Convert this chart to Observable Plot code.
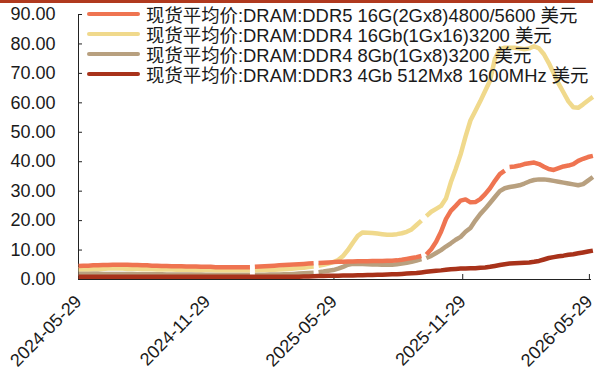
<!DOCTYPE html>
<html><head><meta charset="utf-8">
<script src="https://cdn.jsdelivr.net/npm/d3@7"></script>
<script src="https://cdn.jsdelivr.net/npm/@observablehq/plot@0.6"></script>
<style>
body{margin:0;background:#fff;}
#wrap{position:relative;width:596px;height:371px;overflow:hidden;font-family:"Liberation Sans","Noto Sans CJK SC",sans-serif;}
#topline{position:absolute;left:0;top:0;width:593px;height:3px;background:#B0391E;}
#legend{position:absolute;left:87px;top:4px;}
.item{display:flex;align-items:center;height:20px;font-size:18.4px;color:#1a1a1a;white-space:nowrap;}
.sw{width:53px;height:4.5px;margin-right:6px;border-radius:2.5px;flex:none;}
</style></head>
<body>
<div id="wrap"><div id="chart"></div><div id="topline"></div><div id="legend"></div></div>
<script>
// weekly sampling starting date (Wednesdays)
const startDate = "2024-05-29";
const weekCount = 106;
const xTickLabels = ["2024-05-29","2024-11-29","2025-05-29","2025-11-29","2026-05-29"];
const yTicks = [0,10,20,30,40,50,60,70,80,90];

const seriesNames = [
  "现货平均价:DRAM:DDR5 16G(2Gx8)4800/5600 美元",
  "现货平均价:DRAM:DDR4 16Gb(1Gx16)3200 美元",
  "现货平均价:DRAM:DDR4 8Gb(1Gx8)3200 美元",
  "现货平均价:DRAM:DDR3 4Gb 512Mx8 1600MHz 美元"
];
const seriesColors = ["#EF7451","#F0D98C","#B8A07F","#A8321A"];

const ddr5 = [
 4.6,4.7,4.7,4.8,4.8,4.9,4.9,5.0,5.0,5.0,
 5.0,4.9,4.9,4.8,4.8,4.7,4.7,4.6,4.6,4.5,
 4.5,4.5,4.4,4.4,4.4,4.3,4.3,4.3,4.2,4.2,
 4.2,4.2,4.2,4.2,4.2,4.2,4.3,4.4,4.5,4.6,
 4.7,4.8,4.9,5.0,5.1,5.2,5.3,5.4,5.5,5.6,
 5.7,5.8,5.9,6.0,6.0,6.1,6.1,6.2,6.2,6.2,
 6.3,6.3,6.3,6.4,6.4,6.5,6.7,7.0,7.3,7.6,
 8.0,8.5,10.3,12.8,16.2,20.5,23.3,25.0,26.8,27.2,
 26.2,26.3,27.3,29.0,31.0,33.5,35.8,37.0,38.2,38.4,
 38.7,39.2,39.5,39.7,39.2,38.3,37.5,37.2,37.8,38.4,
 38.7,39.2,40.3,41.0,41.6,42.0
];
const ddr4_16 = [
 3.5,3.5,3.5,3.6,3.6,3.6,3.7,3.7,3.7,3.7,
 3.6,3.6,3.6,3.5,3.5,3.5,3.4,3.4,3.4,3.4,
 3.3,3.3,3.3,3.3,3.2,3.2,3.2,3.2,3.1,3.1,
 3.1,3.1,3.1,3.1,3.1,3.1,3.1,3.2,3.2,3.3,
 3.3,3.4,3.5,3.6,3.7,3.9,4.0,4.2,4.4,4.7,
 5.0,5.4,5.9,6.6,8.0,10.0,12.5,14.8,16.0,15.9,
 15.8,15.6,15.4,15.2,15.2,15.4,15.7,16.2,17.0,18.5,
 20.0,21.5,23.0,24.0,25.0,27.5,33.0,37.5,42.5,48.5,
 54.0,57.2,60.5,64.0,67.5,75.0,78.2,78.7,78.7,78.7,
 78.5,78.2,78.5,79.2,78.5,76.5,73.5,70.0,66.5,63.5,
 60.5,58.5,58.3,59.5,60.8,62.0
];
const ddr4_8 = [
 2.0,2.0,2.0,2.0,2.0,1.9,1.9,1.9,1.9,1.9,
 1.9,1.9,1.8,1.8,1.8,1.8,1.8,1.8,1.7,1.7,
 1.7,1.7,1.7,1.7,1.7,1.7,1.6,1.6,1.6,1.6,
 1.6,1.6,1.6,1.6,1.6,1.6,1.6,1.6,1.6,1.7,
 1.7,1.7,1.8,1.8,1.9,2.0,2.1,2.2,2.3,2.5,
 2.7,3.0,3.2,3.7,4.3,5.0,5.3,5.3,5.3,5.2,
 5.1,5.1,5.0,5.0,5.0,5.2,5.4,5.7,6.0,6.4,
 6.9,7.3,8.0,9.0,10.0,11.2,12.3,13.5,14.5,16.2,
 17.5,20.0,22.2,24.0,26.0,28.0,30.0,31.0,31.4,31.7,
 32.0,32.6,33.3,33.8,34.0,34.0,33.8,33.5,33.2,32.9,
 32.6,32.3,32.0,32.4,33.6,34.8
];
const ddr3 = [
 0.9,0.9,0.9,0.9,0.9,0.9,0.9,0.9,0.9,0.9,
 0.9,0.9,0.9,0.9,0.9,0.9,0.9,0.9,0.9,0.9,
 0.9,0.9,0.9,0.9,0.9,0.9,0.9,0.9,0.9,0.9,
 0.9,0.9,0.9,0.9,0.9,0.9,0.9,0.9,0.9,0.9,
 0.9,0.9,0.9,0.9,0.9,0.95,1.0,1.05,1.1,1.15,
 1.2,1.25,1.25,1.3,1.35,1.35,1.4,1.45,1.45,1.5,
 1.55,1.6,1.65,1.7,1.75,1.8,1.9,2.0,2.1,2.2,
 2.4,2.6,2.8,3.0,3.1,3.3,3.5,3.6,3.7,3.7,
 3.8,3.8,4.0,4.1,4.3,4.6,4.9,5.2,5.4,5.5,
 5.6,5.7,5.8,6.0,6.3,6.8,7.3,7.6,7.9,8.1,
 8.4,8.6,8.9,9.2,9.5,9.8
];
// dates with missing quotes (line breaks)
const gapsMain = ["2025-02-02","2025-05-03","2025-10-04"];
const gapsDDR5 = ["2025-02-02","2025-05-03","2025-10-04","2026-01-31"];

const dates = d3.range(weekCount).map(i => d3.utcDay.offset(new Date(startDate), 7 * i));

const series = [
  {name: seriesNames[0], values: ddr5, color: seriesColors[0], gaps: gapsDDR5},
  {name: seriesNames[1], values: ddr4_16, color: seriesColors[1], gaps: gapsMain},
  {name: seriesNames[2], values: ddr4_8, color: seriesColors[2], gaps: gapsMain},
  {name: seriesNames[3], values: ddr3, color: seriesColors[3], gaps: []}
];
function rowsOf(s) {
  const pts = dates.map((d, i) => ({date: d, value: s.values[i]}));
  s.gaps.forEach(g => pts.push({date: new Date(g), value: NaN}));
  pts.sort((a, b) => a.date - b.date);
  return pts;
}
const drawOrder = [2, 3, 1, 0];
const lineMarks = drawOrder.map(k => Plot.line(rowsOf(series[k]), {
  x: "date", y: "value", stroke: series[k].color, strokeWidth: 4.5,
  strokeLinecap: "butt", strokeLinejoin: "round"
}));

const x0 = new Date("2024-05-29");
const xTicks = xTickLabels.map(d => new Date(d));
const chart = Plot.plot({
  width: 596, height: 371,
  marginLeft: 78, marginRight: 5, marginTop: 14, marginBottom: 92,
  x: {type: "utc", domain: [x0, new Date("2026-06-01")]},
  y: {domain: [0, 90]},
  style: {fontFamily: "'Liberation Sans','Noto Sans CJK SC',sans-serif", fontSize: "18px", color: "#1a1a1a", background: "white", overflow: "visible"},
  marks: [
    Plot.axisY({ticks: yTicks, tickSize: 0, tickPadding: 23, tickFormat: d3.format(".2f"), label: null}),
    Plot.axisX({ticks: xTicks, tickSize: 0, tickPadding: 19, tickRotate: -45, tickFormat: d3.utcFormat("%Y-%m-%d"), label: null}),
    Plot.ruleY(yTicks, {y: d => d, stroke: "#222", insetRight: 596 - 78 - 5 - 4}),
    Plot.ruleX(xTicks, {x: d => d, stroke: "#222", insetTop: 265 - 5}),
    Plot.ruleX([x0], {stroke: "#222"}),
    Plot.ruleY([0], {stroke: "#222"}),
    ...lineMarks
  ]
});
document.getElementById("chart").appendChild(chart);

const legend = d3.select("#legend");
series.forEach(s => {
  const it = legend.append("div").attr("class", "item");
  it.append("div").attr("class", "sw").style("background", s.color);
  it.append("span").text(s.name);
});
</script>
</body></html>
